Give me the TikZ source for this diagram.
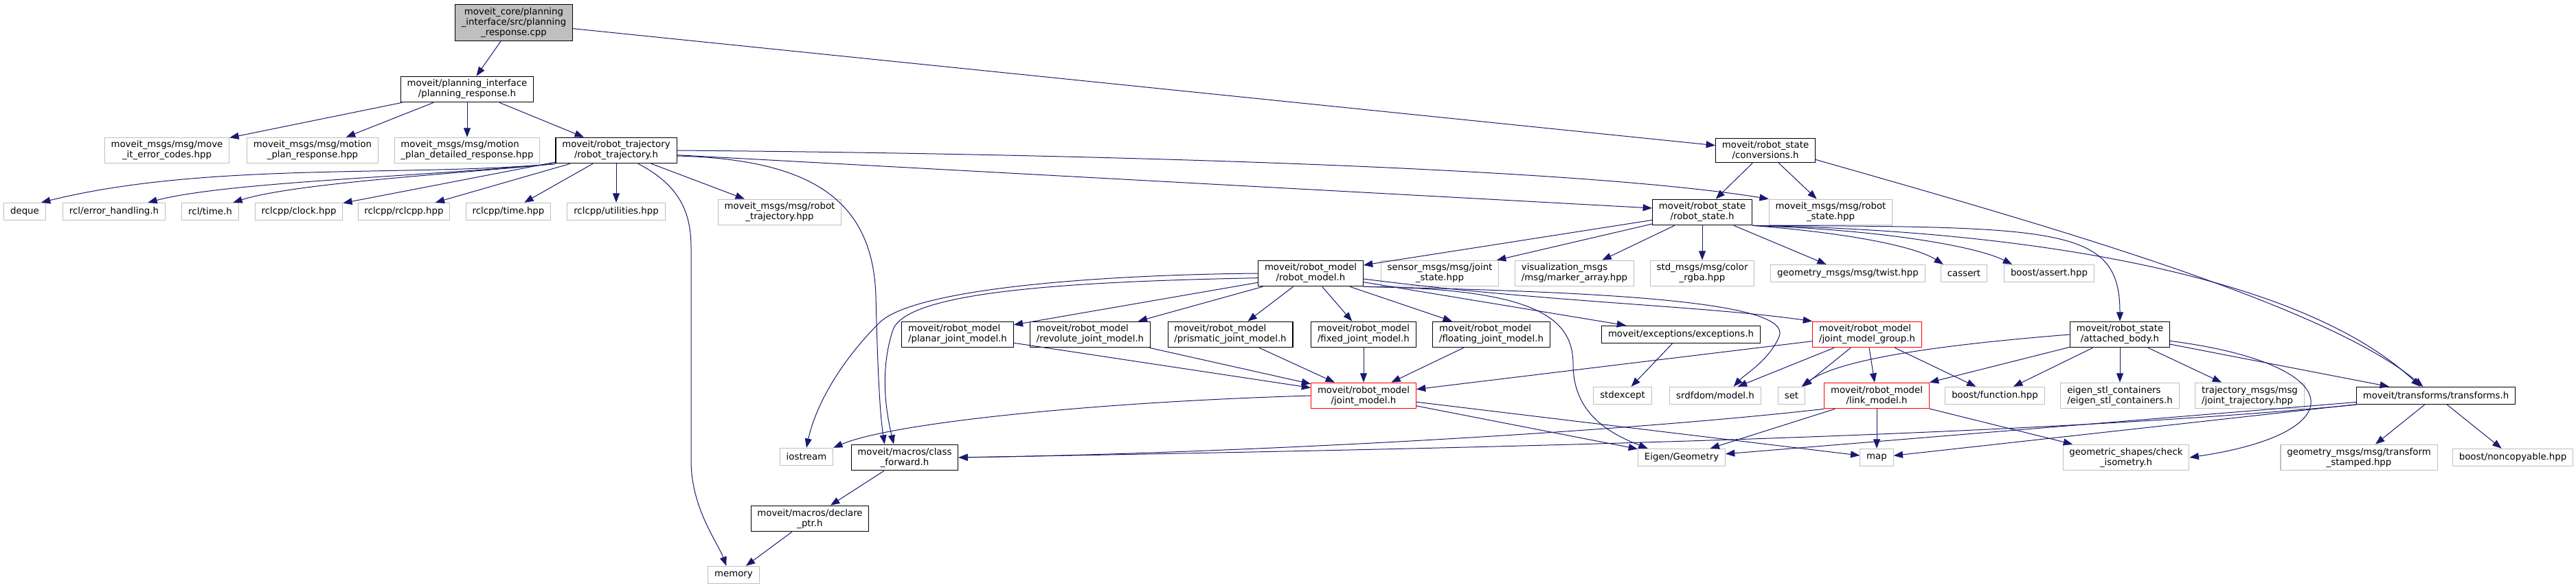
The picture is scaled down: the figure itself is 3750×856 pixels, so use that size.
\documentclass[tikz,border=0pt]{standalone}
\usepackage{fontspec}
\setmainfont{DejaVu Sans}
\usetikzlibrary{arrows.meta}
\definecolor{edgeblue}{HTML}{191970}
\definecolor{lightgrey}{HTML}{BFBFBF}
\newcommand{\graphfont}{\fontsize{10pt}{11.25pt}\selectfont}

\begin{document}
\begin{tikzpicture}[x=0.75pt, y=-0.75pt,
  hdr/.style={draw=black, fill=white, line width=0.8pt, font=\graphfont, align=center, inner xsep=7pt, inner ysep=3.5pt, minimum height=19pt},
  sys/.style={hdr, draw=lightgrey},
  trunc/.style={hdr, draw=red},
  mainfile/.style={hdr, fill=lightgrey},
  inc/.style={draw=edgeblue, line width=0.75pt, -{Triangle[length=10pt, width=7.5pt]}}]
\useasboundingbox (0,0) rectangle (3750,856);
\node[mainfile] (top) at (748,33) {moveit\_core/planning\\\_interface/src/planning\\\_response.cpp};
\node[hdr] (prh) at (680,130) {moveit/planning\_interface\\/planning\_response.h};
\node[sys] (errc) at (243,219) {moveit\_msgs/msg/move\\\_it\_error\_codes.hpp};
\node[sys] (mpr) at (455,219) {moveit\_msgs/msg/motion\\\_plan\_response.hpp};
\node[sys, align=left] (mpd) at (680,219) {moveit\_msgs/msg/motion\\\_plan\_detailed\_response.hpp};
\node[hdr] (rtj) at (897,219) {moveit/robot\_trajectory\\/robot\_trajectory.h};
\node[hdr] (conv) at (2570,219) {moveit/robot\_state\\/conversions.h};
\node[sys] (deque) at (36,308) {deque};
\node[sys] (rclerr) at (166,308) {rcl/error\_handling.h};
\node[sys] (rcltime) at (306,308) {rcl/time.h};
\node[sys] (rclock) at (435,308) {rclcpp/clock.hpp};
\node[sys] (rclcpp) at (588,308) {rclcpp/rclcpp.hpp};
\node[sys] (rtime) at (740,308) {rclcpp/time.hpp};
\node[sys] (rutil) at (897,308) {rclcpp/utilities.hpp};
\node[sys] (rtmsg) at (1135,309) {moveit\_msgs/msg/robot\\\_trajectory.hpp};
\node[hdr] (rstate) at (2478,309) {moveit/robot\_state\\/robot\_state.h};
\node[sys] (rsmsg) at (2665,309) {moveit\_msgs/msg/robot\\\_state.hpp};
\node[hdr] (rmodel) at (1908,398) {moveit/robot\_model\\/robot\_model.h};
\node[sys] (jstate) at (2096,398) {sensor\_msgs/msg/joint\\\_state.hpp};
\node[sys, align=left] (marker) at (2292,398) {visualization\_msgs\\/msg/marker\_array.hpp};
\node[sys] (rgba) at (2478,398) {std\_msgs/msg/color\\\_rgba.hpp};
\node[sys] (twist) at (2690,398) {geometry\_msgs/msg/twist.hpp};
\node[sys] (cassert) at (2859,398) {cassert};
\node[sys] (bassert) at (2983,398) {boost/assert.hpp};
\node[hdr, align=left] (planar) at (1394,487) {moveit/robot\_model\\/planar\_joint\_model.h};
\node[hdr, align=left] (revol) at (1587,487) {moveit/robot\_model\\/revolute\_joint\_model.h};
\node[hdr, align=left] (prism) at (1791,487) {moveit/robot\_model\\/prismatic\_joint\_model.h};
\node[hdr, align=left] (fixed) at (1985,487) {moveit/robot\_model\\/fixed\_joint\_model.h};
\node[hdr, align=left] (floating) at (2171,487) {moveit/robot\_model\\/floating\_joint\_model.h};
\node[hdr] (except) at (2447,487) {moveit/exceptions/exceptions.h};
\node[trunc, align=left] (jmg) at (2718,487) {moveit/robot\_model\\/joint\_model\_group.h};
\node[hdr] (attach) at (3086,487) {moveit/robot\_state\\/attached\_body.h};
\node[trunc] (jm) at (1985,576) {moveit/robot\_model\\/joint\_model.h};
\node[sys] (stdexc) at (2362,576) {stdexcept};
\node[sys] (srdf) at (2497,576) {srdfdom/model.h};
\node[sys] (setn) at (2608,576) {set};
\node[trunc] (link) at (2732,576) {moveit/robot\_model\\/link\_model.h};
\node[sys] (bfunc) at (2904,576) {boost/function.hpp};
\node[sys, align=left] (estl) at (3086,576) {eigen\_stl\_containers\\/eigen\_stl\_containers.h};
\node[sys, align=left] (jtraj) at (3275,576) {trajectory\_msgs/msg\\/joint\_trajectory.hpp};
\node[hdr] (trans) at (3546,576) {moveit/transforms/transforms.h};
\node[sys] (iostr) at (1174,665) {iostream};
\node[hdr] (cfwd) at (1317,666) {moveit/macros/class\\\_forward.h};
\node[sys] (eigen) at (2448,666) {Eigen/Geometry};
\node[sys] (mapn) at (2732,666) {map};
\node[sys] (iso) at (3095,666) {geometric\_shapes/check\\\_isometry.h};
\node[sys] (tfst) at (3434,666) {geometry\_msgs/msg/transform\\\_stamped.hpp};
\node[sys] (noncp) at (3658,666) {boost/noncopyable.hpp};
\node[hdr] (declp) at (1179,755) {moveit/macros/declare\\\_ptr.h};
\node[sys] (memory) at (1068,837) {memory};
\draw[inc] (top) -- (prh);
\draw[inc] (top) -- (conv);
\draw[inc] (prh) -- (errc);
\draw[inc] (prh) -- (mpr);
\draw[inc] (prh) -- (mpd);
\draw[inc] (prh) -- (rtj);
\draw[inc] (rtj.south west) .. controls (600,258) and (300,235) .. ([xshift=18pt]deque.north);
\draw[inc] (rtj.south west) .. controls (600,258) and (330,265) .. ([xshift=37pt]rclerr.north);
\draw[inc] (rtj.south west) .. controls (680,252) and (430,266) .. ([xshift=25pt]rcltime.north);
\draw[inc] (rtj) -- (rclock);
\draw[inc] (rtj) -- (rclcpp);
\draw[inc] (rtj) -- (rtime);
\draw[inc] (rtj) -- (rutil);
\draw[inc] (rtj) -- (rtmsg);
\draw[inc] ([xshift=24pt]rtj.south) .. controls (990,270) and (1006,310) .. (1006,360) -- (1006,670) .. controls (1006,740) and (1045,790) .. ([xshift=-8pt]memory.north);
\draw[inc] ([yshift=-6pt]rtj.east) .. controls (1180,232) and (1270,290) .. (1275,430) .. controls (1278,560) and (1282,610) .. ([xshift=-22pt]cfwd.north);
\draw[inc] ([yshift=-5pt]rtj.east) -- ([yshift=4.5pt]rstate.west);
\draw[inc] (rtj.east) .. controls (1600,224) and (2300,245) .. (rsmsg.north west);
\draw[inc] (conv) -- (rstate);
\draw[inc] (conv) -- (rsmsg);
\draw[inc] ([yshift=-10pt]conv.east) .. controls (2950,320) and (3380,440) .. ([xshift=-14pt]trans.north);
\draw[inc] (rstate) -- (rmodel);
\draw[inc] (rstate) -- (jstate);
\draw[inc] (rstate) -- (marker);
\draw[inc] (rstate) -- (rgba);
\draw[inc] (rstate) -- (twist);
\draw[inc] (rstate.south east) .. controls (2700,340) and (2790,360) .. ([xshift=3pt]cassert.north west);
\draw[inc] (rstate.south east) .. controls (2750,335) and (2880,360) .. ([xshift=9pt]bassert.north west);
\draw[inc] (rstate.south east) .. controls (3000,330) and (3086,330) .. (attach.north);
\draw[inc] (rstate.south east) .. controls (2950,335) and (3350,400) .. ([xshift=-17pt]trans.north);
\draw[inc] (rmodel) -- (planar);
\draw[inc] (rmodel) -- (revol);
\draw[inc] (rmodel) -- (prism);
\draw[inc] (rmodel) -- (fixed);
\draw[inc] (rmodel) -- (floating);
\draw[inc] (rmodel) -- (except);
\draw[inc] ([yshift=-6pt]rmodel.east) .. controls (2250,440) and (2480,445) .. (jmg.north west);
\draw[inc] (rmodel.south east) .. controls (2230,420) and (2290,460) .. (2290,530) .. controls (2290,600) and (2340,630) .. ([xshift=-37pt]eigen.north);
\draw[inc] (rmodel.south east) .. controls (2350,425) and (2610,440) .. (2590,490) .. controls (2575,525) and (2540,545) .. ([xshift=20pt]srdf.north);
\draw[inc] (rmodel.west) .. controls (1600,400) and (1330,420) .. (1280,470) .. controls (1215,535) and (1185,600) .. (iostr.north);
\draw[inc] ([yshift=-5pt]rmodel.west) .. controls (1550,410) and (1320,425) .. (1300,480) .. controls (1280,540) and (1290,600) .. ([xshift=-12pt]cfwd.north);
\draw[inc] (planar) -- (jm);
\draw[inc] (revol) -- (jm);
\draw[inc] (prism) -- (jm);
\draw[inc] (fixed) -- (jm);
\draw[inc] (floating) -- (jm);
\draw[inc] (jmg) -- (jm);
\draw[inc] (except) -- (stdexc);
\draw[inc] (jmg) -- (srdf);
\draw[inc] (jmg) -- (setn);
\draw[inc] (jmg) -- (link);
\draw[inc] (jmg) -- (bfunc);
\draw[inc] (attach.west) .. controls (2850,500) and (2680,520) .. ([xshift=11pt]setn.north);
\draw[inc] (attach) -- (link);
\draw[inc] (attach) -- (bfunc);
\draw[inc] (attach) -- (estl);
\draw[inc] (attach) -- (jtraj);
\draw[inc] (attach) -- (trans);
\draw[inc] ([yshift=-7pt]attach.east) .. controls (3420,530) and (3430,630) .. (iso.east);
\draw[inc] (jm.west) .. controls (1600,585) and (1300,615) .. (iostr.north east);
\draw[inc] (jm) -- (eigen);
\draw[inc] (jm) -- (mapn);
\draw[inc] (link) -- (eigen);
\draw[inc] (link) -- (mapn);
\draw[inc] (link) -- (iso);
\draw[inc] (link.south west) .. controls (2350,630) and (1800,660) .. (cfwd.east);
\draw[inc] (trans.south west) .. controls (2900,640) and (2000,655) .. (cfwd.east);
\draw[inc] (trans) -- (eigen);
\draw[inc] (trans) -- (mapn);
\draw[inc] (trans) -- (tfst);
\draw[inc] (trans) -- (noncp);
\draw[inc] (cfwd) -- (declp);
\draw[inc] (declp) -- (memory);
\end{tikzpicture}
\end{document}
